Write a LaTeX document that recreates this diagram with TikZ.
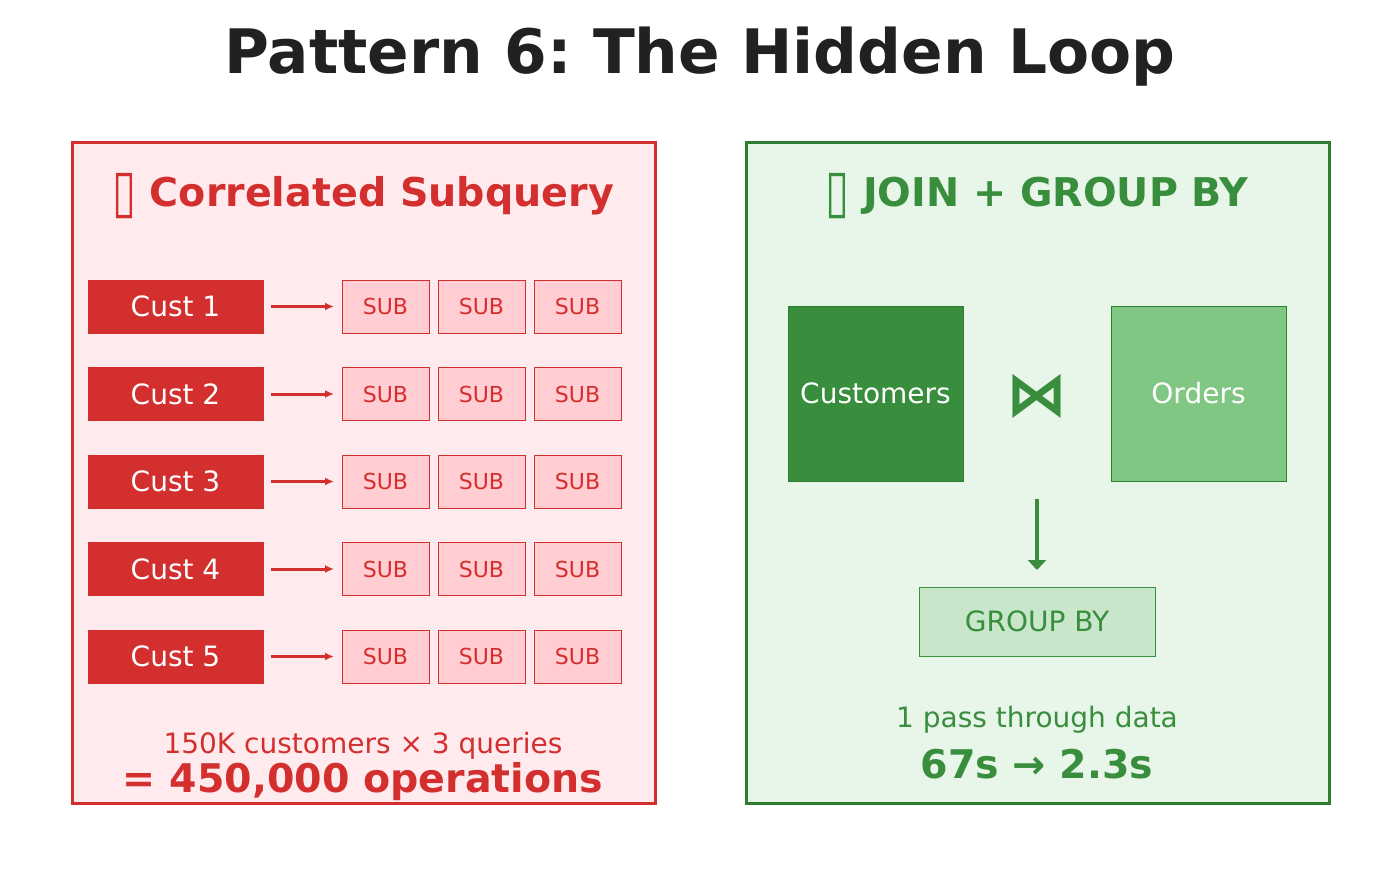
\documentclass[tikz,border=0pt]{standalone}
\usepackage{fontspec}
\setmainfont{DejaVu Sans}
\usetikzlibrary{arrows.meta}
\frenchspacing
\definecolor{redc}{HTML}{D32F2F}
\definecolor{redbg}{HTML}{FFEBEE}
\definecolor{redsub}{HTML}{FFCDD2}
\definecolor{greenc}{HTML}{388E3C}
\definecolor{greend}{HTML}{2E7D32}
\definecolor{greenbg}{HTML}{E8F5E9}
\definecolor{greenl}{HTML}{81C784}
\definecolor{greenp}{HTML}{C8E6C9}
\definecolor{titlec}{HTML}{212121}
\newcommand{\tofu}{\raisebox{-0.12em}{\scalebox{1.1}[1.5]{\mdseries ▯}}}
\tikzset{
  panel/.style={draw=#1, line width=3pt, inner sep=0pt},
  custbox/.style={fill=redc, draw=redc, line width=0.5pt, minimum width=175pt, minimum height=53pt, inner sep=0pt, text=white, font=\fontsize{28}{33}\selectfont},
  subbox/.style={fill=redsub, draw=redc, line width=0.6pt, minimum width=87pt, minimum height=53pt, inner sep=0pt, text=redc, font=\fontsize{22}{26}\selectfont},
  redarrow/.style={draw=redc, line width=3pt, -{Latex[length=9pt,width=8pt]}},
  bigbox/.style={draw=greend, line width=0.8pt, minimum width=175pt, minimum height=175pt, inner sep=0pt, text=white, font=\fontsize{28}{33}\selectfont},
  heading/.style={font=\fontsize{39.6}{47}\selectfont\bfseries},
}
\begin{document}
\begin{tikzpicture}[x=1pt,y=-1pt]
\useasboundingbox[fill=white] (0,0) rectangle (1400,875);
\node[font=\fontsize{61.3}{73}\selectfont\bfseries, text=titlec] (title) at (700,57) {Pattern 6: The Hidden Loop};
% left panel
\draw[panel=redc, fill=redbg] (72,142) rectangle (655,803);
\node[heading, text=redc] (lhead) at (363,196) {\tofu{} Correlated Subquery};
\foreach \i/\y in {1/306.5,2/394,3/481.5,4/569,5/656.5}{
  \node[custbox] (c\i) at (175.5,\y) {Cust \i};
  \node[subbox] (s\i a) at (385.5,\y) {SUB};
  \node[subbox] (s\i b) at (481.5,\y) {SUB};
  \node[subbox] (s\i c) at (577.5,\y) {SUB};
  \coordinate (a\i s) at (271,\y);
  \draw[redarrow] (a\i s) -- (s\i a.west -| 334,0);
}
\node[text=redc, font=\fontsize{28}{33}\selectfont] (lnote) at (363,746) {150K customers × 3 queries};
\node[text=redc, font=\fontsize{39.5}{47}\selectfont\bfseries] (lres) at (363,782) {= 450,000 operations};
% right panel
\draw[panel=greend, fill=greenbg] (746,142) rectangle (1329,803);
\node[heading, text=greenc] (rhead) at (1037,196) {\tofu{} JOIN + GROUP BY};
\node[bigbox, fill=greenc] (cust) at (875.5,393.5) {Customers};
\node[bigbox, fill=greenl] (ord) at (1198.5,393.5) {Orders};
\node[text=greenc, font=\fontsize{61}{70}\selectfont\bfseries] (join) at (1037,396) {⋈};
\node[draw=greenc, fill=greenp, line width=0.8pt, minimum width=236pt, minimum height=69pt, inner sep=0pt, text=greenc, font=\fontsize{28}{33}\selectfont] (grp) at (1037,621.5) {GROUP BY};
\coordinate (ar1) at (1037,499);
\draw[draw=greenc, line width=4pt, -{Triangle[length=10pt,width=18pt]}] (ar1) -- (1037,570);
\node[text=greenc, font=\fontsize{28}{33}\selectfont] (rnote) at (1037,720) {1 pass through data};
\node[text=greenc, font=\fontsize{39.5}{47}\selectfont\bfseries] (rres) at (1037,764) {67s → 2.3s};
\end{tikzpicture}
\end{document}
